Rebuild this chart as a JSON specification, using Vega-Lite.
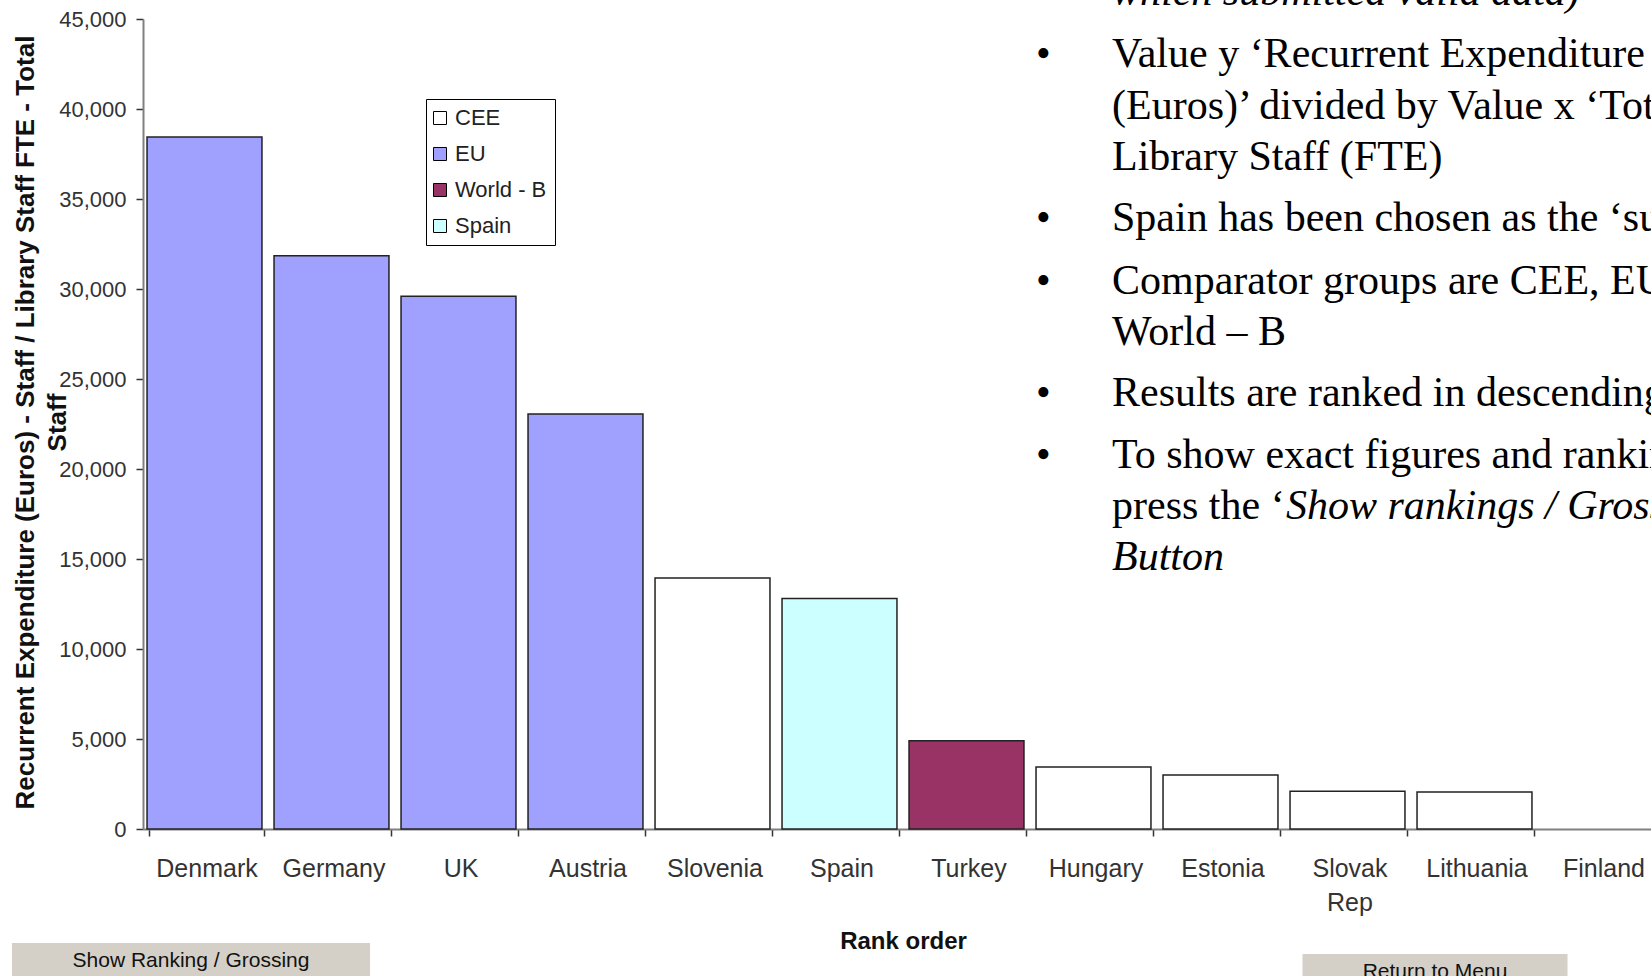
{
  "$schema": "https://vega.github.io/schema/vega-lite/v6.json",
  "width": 1508,
  "height": 810,
  "autosize": {"type": "none"},
  "padding": {"left": 143, "top": 19, "right": 0, "bottom": 147},
  "background": "#ffffff",
  "config": {"view": {"stroke": null}, "axis": {"grid": false}},
  "datasets": {
    "bars": [
      {"country": "Denmark", "group": "EU", "value": 38450},
      {"country": "Germany", "group": "EU", "value": 31850},
      {"country": "UK", "group": "EU", "value": 29600},
      {"country": "Austria", "group": "EU", "value": 23050},
      {"country": "Slovenia", "group": "CEE", "value": 13950},
      {"country": "Spain", "group": "Spain", "value": 12800},
      {"country": "Turkey", "group": "World - B", "value": 4900},
      {"country": "Hungary", "group": "CEE", "value": 3450},
      {"country": "Estonia", "group": "CEE", "value": 3000},
      {"country": "Slovak Rep", "group": "CEE", "value": 2100},
      {"country": "Lithuania", "group": "CEE", "value": 2050},
      {"country": "Finland", "group": "EU", "value": 0}
    ],
    "notes": [
      {"line": 0, "part": "body", "style": "italic", "text": "which submitted valid data)"},
      {"line": 1, "part": "bullet", "style": "normal", "text": "•"},
      {"line": 1, "part": "body", "style": "normal", "text": "Value y ‘Recurrent Expenditure - Staff"},
      {"line": 2, "part": "body", "style": "normal", "text": "(Euros)’ divided by Value x ‘Total"},
      {"line": 3, "part": "body", "style": "normal", "text": "Library Staff (FTE)"},
      {"line": 4, "part": "bullet", "style": "normal", "text": "•"},
      {"line": 4, "part": "body", "style": "normal", "text": "Spain has been chosen as the ‘subject’"},
      {"line": 5, "part": "bullet", "style": "normal", "text": "•"},
      {"line": 5, "part": "body", "style": "normal", "text": "Comparator groups are CEE, EU and"},
      {"line": 6, "part": "body", "style": "normal", "text": "World – B"},
      {"line": 7, "part": "bullet", "style": "normal", "text": "•"},
      {"line": 7, "part": "body", "style": "normal", "text": "Results are ranked in descending order"},
      {"line": 8, "part": "bullet", "style": "normal", "text": "•"},
      {"line": 8, "part": "body", "style": "normal", "text": "To show exact figures and rankings"},
      {"line": 9, "part": "body", "style": "normal", "text": "press the ‘"},
      {"line": 9, "part": "body", "style": "italic-run", "text": "Show rankings / Grossing’"},
      {"line": 10, "part": "body", "style": "italic", "text": "Button"}
    ]
  },
  "layer": [
    {
      "data": {"name": "bars"},
      "mark": {"type": "bar", "stroke": "#222222", "strokeWidth": 1.5, "xOffset": -2},
      "encoding": {
        "x": {
          "field": "country", "type": "nominal", "sort": null,
          "scale": {"range": [0, 1524], "paddingInner": 0.095, "paddingOuter": 0.0475},
          "axis": {
            "title": "Rank order",
            "titleFont": "Liberation Sans", "titleFontSize": 24, "titleFontWeight": "bold", "titleColor": "#111111",
            "titleX": 760, "titleY": 119, "titleBaseline": "alphabetic", "titleAlign": "center",
            "labelFont": "Liberation Sans", "labelFontSize": 25, "labelColor": "#333333",
            "labelPadding": 20, "labelAngle": 0, "labelBaseline": "top", "labelLineHeight": 34,
            "labelOverlap": false, "labelLimit": 300,
            "labelExpr": "datum.label == 'Slovak Rep' ? ['Slovak', 'Rep'] : datum.label",
            "tickBand": "extent", "tickSize": 7, "tickColor": "#333333", "tickWidth": 1.5,
            "domainColor": "#808080", "domainWidth": 2
          }
        },
        "y": {
          "field": "value", "type": "quantitative",
          "scale": {"domain": [0, 45000], "nice": false},
          "axis": {
            "values": [0, 5000, 10000, 15000, 20000, 25000, 30000, 35000, 40000, 45000],
            "format": ",d",
            "labelFont": "Liberation Sans", "labelFontSize": 22, "labelColor": "#333333", "labelPadding": 10,
            "tickSize": 7, "tickColor": "#333333", "tickWidth": 1.5,
            "domainColor": "#808080", "domainWidth": 2,
            "title": ["Recurrent Expenditure (Euros) - Staff / Library Staff FTE - Total", "Staff"],
            "titleFont": "Liberation Sans", "titleFontSize": 26, "titleFontWeight": "bold", "titleColor": "#111111",
            "titleLineHeight": 32, "titleAngle": 270, "titleBaseline": "top", "titleAlign": "center",
            "titleX": -131, "titleY": 403
          }
        },
        "color": {
          "field": "group", "type": "nominal",
          "scale": {"domain": ["CEE", "EU", "World - B", "Spain"], "range": ["#FFFFFF", "#A0A0FF", "#993366", "#CCFFFF"]},
          "legend": {
            "title": null, "orient": "none", "legendX": 283, "legendY": 80, "direction": "vertical",
            "padding": 8, "strokeColor": "#000000", "fillColor": "#FFFFFF",
            "symbolType": "square", "symbolSize": 169, "symbolStrokeColor": "#000000", "symbolStrokeWidth": 1, "symbolOpacity": 1,
            "symbolOffset": -5,
            "labelFont": "Liberation Sans", "labelFontSize": 22, "labelColor": "#222222", "labelOffset": 4, "rowPadding": 14
          }
        },
        "strokeOpacity": {"condition": {"test": "datum.value == 0", "value": 0}, "value": 1}
      }
    },
    {
      "data": {"name": "notes"},
      "encoding": {
        "x": {"field": "part", "type": "nominal", "scale": {"type": "point", "domain": ["bullet", "body"], "range": [893, 969], "padding": 0}, "axis": null},
        "y": {"field": "line", "type": "quantitative", "scale": {"domain": [0, 1, 2, 3, 4, 5, 6, 7, 8, 9, 10], "range": [-14, 48, 100, 151, 212, 275, 326, 387, 449, 500, 551], "zero": false, "nice": false}, "axis": null},
        "text": {"field": "text"}
      },
      "layer": [
        {"transform": [{"filter": {"field": "style", "equal": "normal"}}], "mark": {"type": "text", "font": "Liberation Serif", "fontSize": 42, "align": "left", "baseline": "alphabetic", "color": "#000000"}},
        {"transform": [{"filter": {"field": "style", "equal": "italic"}}], "mark": {"type": "text", "font": "Liberation Serif", "fontSize": 42, "fontStyle": "italic", "align": "left", "baseline": "alphabetic", "color": "#000000"}},
        {"transform": [{"filter": {"field": "style", "equal": "italic-run"}}], "mark": {"type": "text", "font": "Liberation Serif", "fontSize": 42, "fontStyle": "italic", "align": "left", "baseline": "alphabetic", "color": "#000000", "dx": 174}}
      ]
    },
    {
      "data": {"values": [{"label": "Show Ranking / Grossing"}]},
      "encoding": {
        "x": {"field": "label", "type": "nominal", "scale": {"type": "point", "range": [48, 48], "padding": 0}, "axis": null},
        "y": {"datum": 0, "type": "quantitative", "scale": {"domain": [0, 1], "range": [924, 960], "nice": false, "zero": false}, "axis": null}
      },
      "layer": [
        {"mark": {"type": "bar", "width": 358, "color": "#D4D0C8"}, "encoding": {"y2": {"datum": 1}}},
        {"mark": {"type": "text", "font": "Liberation Sans", "fontSize": 21, "color": "#111111", "align": "center", "baseline": "middle"}, "encoding": {"y": {"datum": 0.5, "type": "quantitative"}, "text": {"field": "label"}}}
      ]
    },
    {
      "data": {"values": [{"label": "Return to Menu"}]},
      "encoding": {
        "x": {"field": "label", "type": "nominal", "scale": {"type": "point", "range": [1292, 1292], "padding": 0}, "axis": null},
        "y": {"datum": 0, "type": "quantitative", "scale": {"domain": [0, 1], "range": [935, 971], "nice": false, "zero": false}, "axis": null}
      },
      "layer": [
        {"mark": {"type": "bar", "width": 265, "color": "#D4D0C8"}, "encoding": {"y2": {"datum": 1}}},
        {"mark": {"type": "text", "font": "Liberation Sans", "fontSize": 21, "color": "#111111", "align": "center", "baseline": "middle"}, "encoding": {"y": {"datum": 0.5, "type": "quantitative"}, "text": {"field": "label"}}}
      ]
    }
  ],
  "resolve": {"scale": {"x": "independent", "y": "independent"}}
}
